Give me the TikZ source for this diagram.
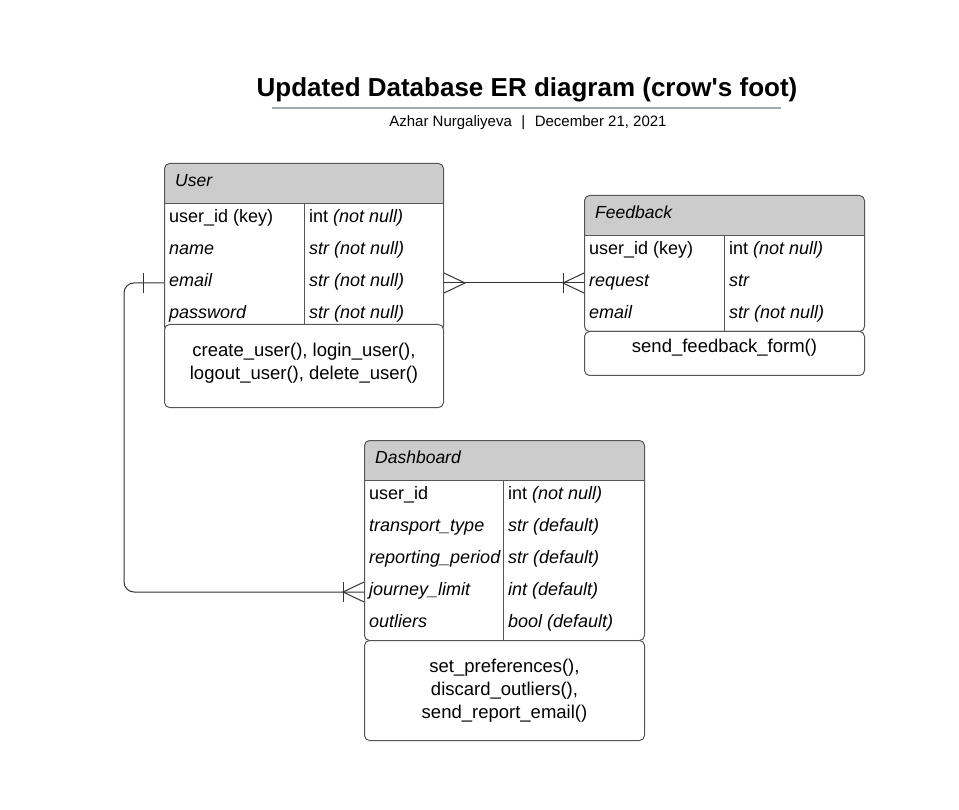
\documentclass[tikz,border=0pt]{standalone}
\usepackage{fontspec}
\setmainfont{Liberation Sans}[Ligatures=TeXOff]
\usepackage{xcolor}
\definecolor{entityborder}{RGB}{85, 85, 85}
\definecolor{headergray}{RGB}{204, 204, 204}
\definecolor{relationgray}{RGB}{51, 51, 51}
\definecolor{rulegray}{RGB}{164, 168, 178}

\begin{document}
\begin{tikzpicture}[
        x=1pt, y=-1pt,
        every node/.style={font=\fontsize{18}{23}\selectfont, text=black},
        entity/.style={rectangle, rounded corners=5pt, draw=entityborder, line width=1pt, fill=white, minimum width=280pt, inner sep=0pt, anchor=north west,
            path picture={
                \fill[headergray, sharp corners] (path picture bounding box.north west) rectangle ([yshift=-40pt]path picture bounding box.north east);
                \draw[entityborder, line width=1pt, sharp corners] ([yshift=-40pt]path picture bounding box.north west) -- ([yshift=-40pt]path picture bounding box.north east);
            }},
        entityname/.style={anchor=west, inner xsep=5pt, inner ysep=0pt, text height=12pt, text depth=5pt, font=\fontsize{17.5}{23}\selectfont\itshape},
        attr/.style={anchor=west, inner xsep=5pt, inner ysep=0pt, text height=12pt, text depth=5pt},
        divider/.style={draw=entityborder, line width=1pt},
        methods/.style={rectangle, rounded corners=5pt, draw=entityborder, line width=1pt, fill=white, minimum width=280pt, anchor=north west, align=center, font=\fontsize{18.5}{23}\selectfont},
        relation/.style={draw=relationgray, line width=1pt}
    ]

    \fill[white] (0,0) rectangle (959,810);

    % Title
    \node[font=\fontsize{26}{30}\selectfont\bfseries, anchor=base] (title) at (527,97) {Updated Database ER diagram (crow's foot)};
    \draw[rulegray, line width=2pt] (272,108) -- (781,108);
    \node[font=\fontsize{15}{18}\selectfont, anchor=base] (subtitle) at (528,127) {Azhar Nurgaliyeva\hspace{9.5pt}|\hspace{9.5pt}December 21, 2021};

    % User
    \node[entity, minimum width=279pt, minimum height=168pt] (user) at (164,163) {};
    \node[entityname] (usertitle) at (170,183) {User};
    \node[attr] (uid) at (164,219) {user\_id (key)};
    \node[attr] (uidtype) at (304,219) {int \textit{(not null)}};
    \node[attr] (uname) at (164,251) {\textit{name}};
    \node[attr] (unametype) at (304,251) {\textit{str (not null)}};
    \node[attr] (uemail) at (164,283) {\textit{email}};
    \node[attr] (uemailtype) at (304,283) {\textit{str (not null)}};
    \node[attr] (upass) at (164,315) {\textit{password}};
    \node[attr] (upasstype) at (304,315) {\textit{str (not null)}};
    \draw[divider] ([xshift=140pt, yshift=-40pt]user.north west) -- ([xshift=140pt]user.south west);
    \node[methods, minimum width=279pt, minimum height=83pt, yshift=0pt] (umethods) at (164,324) {create\_user(), login\_user(),\\ logout\_user(), delete\_user()\rule[-9pt]{0pt}{0pt}};

    % Feedback
    \node[entity, minimum height=136pt] (feedback) at (584,195) {};
    \node[entityname] (fbtitle) at (590,215) {Feedback};
    \node[attr] (fid) at (584,251) {user\_id (key)};
    \node[attr] (fidtype) at (724,251) {int \textit{(not null)}};
    \node[attr] (frequest) at (584,283) {\textit{request}};
    \node[attr] (frequesttype) at (724,283) {\textit{str}};
    \node[attr] (femail) at (584,315) {\textit{email}};
    \node[attr] (femailtype) at (724,315) {\textit{str (not null)}};
    \draw[divider] ([xshift=140pt, yshift=-40pt]feedback.north west) -- ([xshift=140pt]feedback.south west);
    \node[methods, minimum height=44pt, text height=12pt, text depth=14pt] (fmethods) at (584,331) {send\_feedback\_form()};

    % Dashboard
    \node[entity, minimum height=200pt] (dashboard) at (364,440) {};
    \node[entityname] (dashtitle) at (370,460) {Dashboard};
    \node[attr] (did) at (364,496) {user\_id};
    \node[attr] (didtype) at (503,496) {int \textit{(not null)}};
    \node[attr] (dtransport) at (364,528) {\textit{transport\_type}};
    \node[attr] (dtransporttype) at (503,528) {\textit{str (default)}};
    \node[attr] (dperiod) at (364,560) {\textit{reporting\_period}};
    \node[attr] (dperiodtype) at (503,560) {\textit{str (default)}};
    \node[attr] (djourney) at (364,592) {\textit{journey\_limit}};
    \node[attr] (djourneytype) at (503,592) {\textit{int (default)}};
    \node[attr] (doutliers) at (364,624) {\textit{outliers}};
    \node[attr] (doutlierstype) at (503,624) {\textit{bool (default)}};
    \draw[divider] ([xshift=139pt, yshift=-40pt]dashboard.north west) -- ([xshift=139pt]dashboard.south west);
    \node[methods, minimum height=100pt] (dmethods) at (364,640) {set\_preferences(),\\ discard\_outliers(),\\ send\_report\_email()};

    % Relations
    \draw[relation] (uemail -| user.east) -- (frequest.west);
    \draw[relation] (uemail -| user.east) ++(0,-10) -- ++(21,10) -- ++(-21,10);
    \draw[relation] (frequest.west) ++(0,-10) -- ++(-21,10) -- ++(21,10);
    \draw[relation] (frequest.west) ++(-21,-10) -- ++(0,20);

    \draw[relation, rounded corners=10pt] (uemail.west) -- ++(-40,0) |- (djourney.west);
    \draw[relation] (uemail.west) ++(-21,-10) -- ++(0,20);
    \draw[relation] (djourney.west) ++(0,-10) -- ++(-21,10) -- ++(21,10);
    \draw[relation] (djourney.west) ++(-21,-10) -- ++(0,20);

\end{tikzpicture}
\end{document}
